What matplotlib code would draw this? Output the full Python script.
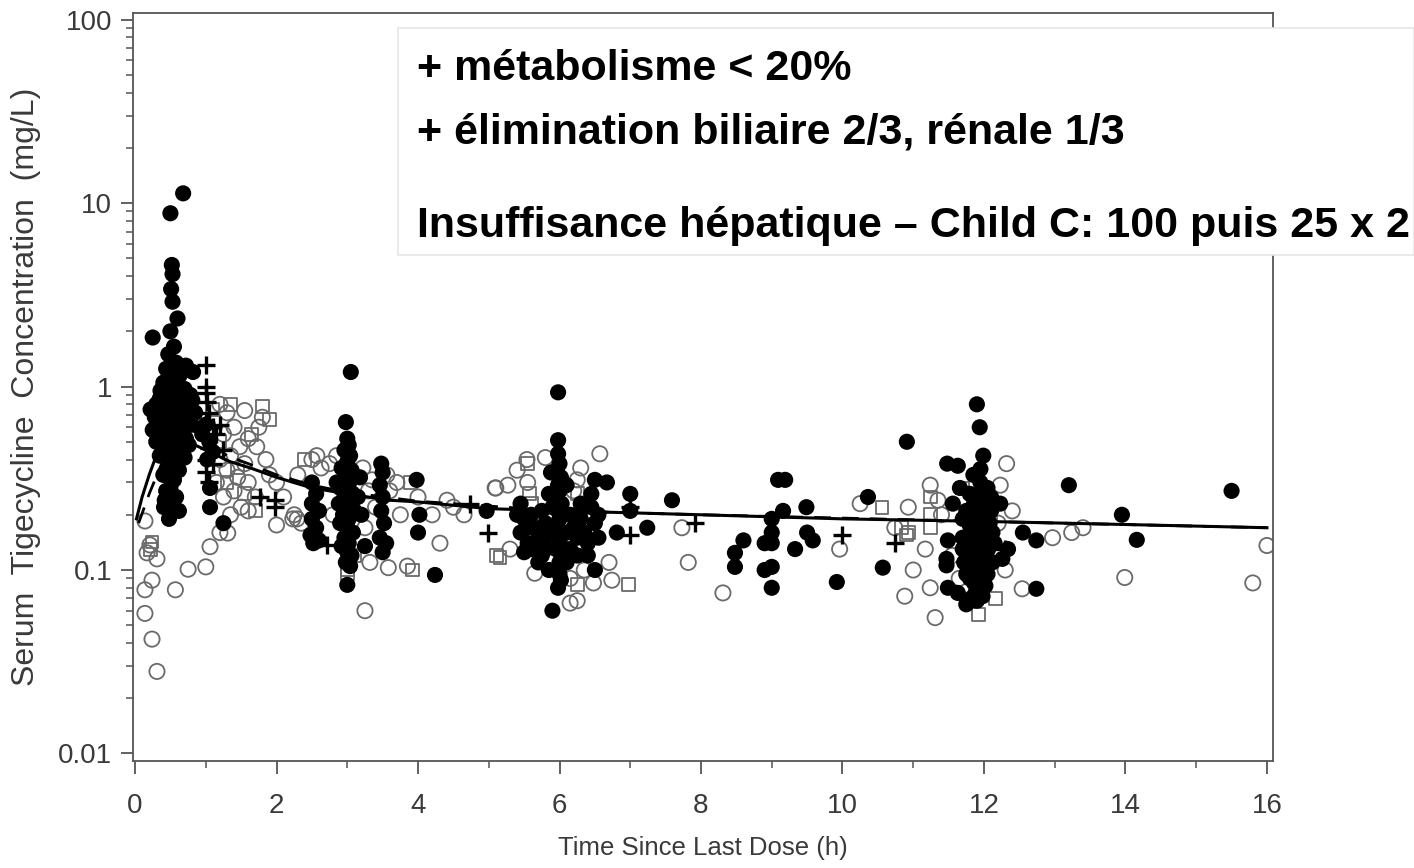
"""
Concentrations sériques de tigécycline en fonction du temps depuis la dernière dose
"""
import matplotlib
matplotlib.use("Agg")
import matplotlib.pyplot as plt
from matplotlib.patches import Rectangle
from matplotlib.ticker import LogLocator, FixedLocator, NullFormatter
import numpy as np

# Observations (temps en h, concentration en mg/L)
filled_pts = [
    # ~0.5 h
    (0.68, 11.3), (0.50, 8.8), (0.52, 4.6), (0.53, 4.1), (0.51, 3.4), (0.53, 2.9), (0.60, 2.35),
    (0.25, 1.85), (0.50, 2.0), (0.55, 1.65), (0.47, 1.5), (0.58, 1.35), (0.44, 1.25), (0.63, 1.15),
    (0.72, 1.3), (0.40, 1.05), (0.54, 1.05), (0.70, 0.97), (0.36, 0.95), (0.35, 0.86), (0.48, 0.9),
    (0.60, 0.86), (0.78, 0.9), (0.30, 0.8), (0.42, 0.78), (0.52, 0.76), (0.66, 0.8), (0.75, 0.7),
    (0.38, 0.7), (0.46, 0.66), (0.56, 0.68), (0.63, 0.62), (0.71, 0.6), (0.80, 0.62), (0.33, 0.6),
    (0.48, 0.58), (0.58, 0.55), (0.40, 0.52), (0.52, 0.5), (0.66, 0.5), (0.76, 0.48), (0.45, 0.46),
    (0.60, 0.44), (0.35, 0.42), (0.55, 0.4), (0.70, 0.41), (0.48, 0.37), (0.62, 0.35), (0.40, 0.33),
    (0.55, 0.31), (0.44, 0.27), (0.58, 0.25), (0.41, 0.22), (0.54, 0.21), (0.48, 0.19), (0.62, 0.21),
    (0.82, 1.2), (0.81, 0.84), (0.30, 0.5), (0.28, 0.68), (0.22, 0.75), (0.25, 0.58), (0.85, 0.72),
    (0.68, 0.72), (0.64, 0.95), (0.46, 1.1), (0.38, 0.62), (0.72, 0.52), (0.42, 0.24), (0.50, 0.28),
    # ~1 h
    (1.0, 0.62), (1.05, 0.5), (1.1, 0.44), (1.02, 0.4), (1.06, 0.28), (1.06, 0.22), (1.25, 0.18),
    (0.95, 0.55),
    # ~2.5 h
    (2.50, 0.30), (2.56, 0.26), (2.50, 0.23), (2.60, 0.21), (2.50, 0.19), (2.56, 0.17), (2.48, 0.155),
    (2.60, 0.145), (2.52, 0.14),
    # ~3 h
    (3.05, 1.2), (2.98, 0.64), (3.0, 0.52), (3.02, 0.48), (2.96, 0.45), (3.04, 0.42), (3.0, 0.39),
    (2.92, 0.36), (3.06, 0.35), (3.0, 0.33), (2.95, 0.31), (3.03, 0.3), (2.9, 0.28), (3.0, 0.27),
    (3.08, 0.26), (2.96, 0.25), (3.02, 0.24), (2.88, 0.23), (3.0, 0.22), (3.1, 0.21), (2.94, 0.2),
    (3.02, 0.19), (2.9, 0.18), (3.0, 0.17), (3.08, 0.16), (2.96, 0.15), (3.02, 0.14), (2.92, 0.135),
    (3.0, 0.125), (3.06, 0.12), (2.98, 0.11), (3.04, 0.105), (3.0, 0.083), (3.2, 0.2), (3.15, 0.25),
    (3.25, 0.135), (2.85, 0.3), (3.18, 0.32),
    # ~3.5 - 5 h
    (3.48, 0.38), (3.50, 0.34), (3.46, 0.29), (3.50, 0.25), (3.48, 0.21), (3.52, 0.18), (3.46, 0.15),
    (3.50, 0.125), (3.55, 0.14), (3.98, 0.31), (4.0, 0.16), (4.24, 0.094), (4.02, 0.2), (4.97, 0.21),
    # ~6 h
    (5.98, 0.93), (5.98, 0.51), (5.9, 0.06),
    (5.98, 0.43), (6.0, 0.38), (5.96, 0.35), (6.02, 0.32), (5.98, 0.29), (6.0, 0.27), (5.95, 0.25),
    (6.03, 0.23), (5.98, 0.21), (6.0, 0.19), (5.96, 0.175), (6.02, 0.16), (5.98, 0.15), (6.0, 0.14),
    (5.95, 0.13), (6.03, 0.12), (6.0, 0.11), (5.97, 0.1), (6.0, 0.095), (6.02, 0.088), (5.98, 0.08),
    (5.45, 0.23), (5.5, 0.19), (5.45, 0.16), (5.55, 0.14), (5.5, 0.125), (5.6, 0.2), (5.65, 0.17),
    (5.7, 0.15), (5.6, 0.13), (5.75, 0.12), (5.8, 0.18), (5.85, 0.155), (5.75, 0.21), (5.85, 0.26),
    (5.7, 0.11), (5.85, 0.1), (6.15, 0.2), (6.2, 0.17), (6.25, 0.15), (6.15, 0.13), (6.3, 0.19),
    (6.35, 0.16), (6.4, 0.14), (6.45, 0.22), (6.5, 0.18), (6.55, 0.15), (6.4, 0.12), (6.5, 0.1),
    (6.3, 0.23), (6.45, 0.26), (6.1, 0.11), (5.4, 0.2), (5.55, 0.17), (5.65, 0.14), (5.9, 0.22),
    (6.1, 0.16), (6.25, 0.12), (6.55, 0.2), (5.8, 0.13), (6.1, 0.29), (5.88, 0.34),
    (6.5, 0.31), (6.67, 0.3), (7.0, 0.26), (6.81, 0.16), (7.24, 0.17), (7.59, 0.24), (7.0, 0.21),
    # ~8 - 11 h
    (8.48, 0.124), (8.48, 0.104), (8.6, 0.145), (8.9, 0.14), (9.0, 0.14), (8.9, 0.1), (9.0, 0.104),
    (9.0, 0.08), (9.0, 0.19), (9.0, 0.16), (9.09, 0.31), (9.19, 0.31), (9.16, 0.21), (9.49, 0.22),
    (9.33, 0.13), (9.5, 0.16), (9.58, 0.145), (9.92, 0.086), (10.36, 0.25), (10.57, 0.103),
    (10.91, 0.5),
    # ~12 h
    (11.9, 0.8), (11.94, 0.6), (11.99, 0.42), (11.48, 0.38), (11.63, 0.37), (12.23, 0.23),
    (11.56, 0.23), (11.49, 0.145), (11.47, 0.115), (11.47, 0.106), (11.49, 0.08), (11.63, 0.075),
    (11.75, 0.065), (11.9, 0.068), (12.26, 0.115), (12.34, 0.13), (12.55, 0.16), (12.74, 0.145),
    (12.74, 0.079),
    (11.85, 0.33), (11.95, 0.3), (12.05, 0.28), (11.8, 0.26), (11.92, 0.25), (12.02, 0.23),
    (11.75, 0.21), (11.88, 0.2), (12.0, 0.19), (12.08, 0.18), (11.8, 0.175), (11.92, 0.165),
    (12.02, 0.155), (11.7, 0.15), (11.85, 0.145), (11.97, 0.14), (12.06, 0.13), (11.78, 0.125),
    (11.9, 0.12), (12.0, 0.115), (11.72, 0.11), (11.85, 0.105), (11.95, 0.1), (12.05, 0.095),
    (11.8, 0.09), (11.92, 0.086), (12.02, 0.082), (11.88, 0.075), (11.98, 0.072), (11.82, 0.07),
    (12.1, 0.25), (12.12, 0.16), (11.95, 0.355), (11.7, 0.19), (11.7, 0.13), (11.75, 0.095),
    (12.1, 0.21), (12.12, 0.11), (11.86, 0.23), (11.9, 0.16), (11.95, 0.13), (12.0, 0.092),
    (11.86, 0.085), (12.15, 0.14), (11.66, 0.28),
    # > 13 h
    (13.2, 0.29), (13.95, 0.2), (14.16, 0.146), (15.5, 0.27),
]

open_circle_pts = [
    (0.14, 0.185), (0.21, 0.137), (0.17, 0.124), (0.31, 0.115), (0.75, 0.101), (1.0, 0.104),
    (1.06, 0.134), (1.31, 0.159), (0.24, 0.088), (0.14, 0.078), (0.57, 0.078), (0.14, 0.058),
    (0.24, 0.042), (0.31, 0.028), (2.0, 0.176), (2.29, 0.19),
    (1.2, 0.8), (1.3, 0.72), (1.55, 0.74), (1.8, 0.68), (1.75, 0.6), (1.4, 0.6), (1.25, 0.55),
    (1.6, 0.52), (1.72, 0.47), (1.48, 0.47), (1.35, 0.42), (1.2, 0.4), (1.55, 0.38), (1.85, 0.4),
    (1.3, 0.35), (1.45, 0.32), (1.15, 0.3), (1.6, 0.3), (1.4, 0.27), (1.7, 0.25), (1.25, 0.25),
    (1.5, 0.22), (1.35, 0.2), (1.6, 0.21), (1.2, 0.16), (2.1, 0.25), (2.25, 0.2), (2.35, 0.18),
    (2.0, 0.3), (1.9, 0.33), (2.5, 0.4), (2.3, 0.33),
    (2.57, 0.42), (2.63, 0.36), (2.23, 0.19), (3.22, 0.36), (3.56, 0.33), (4.0, 0.25), (4.2, 0.2),
    (4.31, 0.14), (4.41, 0.24), (5.09, 0.28), (3.32, 0.11), (3.58, 0.103), (3.25, 0.17),
    (3.25, 0.06), (2.75, 0.38), (2.85, 0.42), (3.3, 0.27), (3.4, 0.22), (3.7, 0.3), (3.75, 0.2),
    (4.5, 0.22), (4.65, 0.2), (3.85, 0.105), (2.8, 0.2), (3.35, 0.31), (3.6, 0.27),
    (5.54, 0.4), (5.8, 0.41), (6.57, 0.43), (6.25, 0.31), (5.1, 0.28), (5.27, 0.29), (5.65, 0.096),
    (6.25, 0.068), (6.15, 0.066), (6.74, 0.088), (6.48, 0.085), (5.4, 0.35), (5.55, 0.3),
    (6.3, 0.36), (6.2, 0.27), (6.35, 0.1), (6.15, 0.09), (5.3, 0.13), (6.7, 0.11),
    (7.73, 0.17), (7.82, 0.11), (8.31, 0.075), (9.96, 0.13), (10.25, 0.23), (10.93, 0.22),
    (10.74, 0.17), (11.17, 0.13), (11.0, 0.1), (10.88, 0.072), (11.24, 0.08), (11.24, 0.29),
    (11.31, 0.055),
    (12.32, 0.38), (12.54, 0.079), (12.23, 0.29), (12.97, 0.15), (13.24, 0.16), (13.4, 0.17),
    (11.4, 0.2), (11.55, 0.12), (12.2, 0.18), (12.3, 0.1), (13.99, 0.091), (15.8, 0.085),
    (16.0, 0.136), (11.35, 0.24), (12.4, 0.21), (11.65, 0.09),
]

open_square_pts = [
    (0.24, 0.142), (0.22, 0.13), (1.1, 0.75), (1.35, 0.8), (1.65, 0.55), (1.8, 0.78), (1.2, 0.5),
    (1.45, 0.36), (1.3, 0.3), (1.55, 0.26), (1.7, 0.21), (1.9, 0.66), (3.89, 0.3), (5.11, 0.12),
    (3.92, 0.1), (3.0, 0.1), (3.0, 0.095), (5.16, 0.117), (6.25, 0.083), (6.97, 0.083),
    (5.58, 0.26), (5.6, 0.23), (5.55, 0.38), (6.25, 0.26), (6.3, 0.22), (10.56, 0.22),
    (10.83, 0.17), (10.91, 0.155), (11.24, 0.25), (11.24, 0.17), (11.24, 0.2), (10.93, 0.16),
    (11.92, 0.057), (12.16, 0.07), (11.7, 0.28), (12.1, 0.2), (11.8, 0.13), (2.4, 0.4),
    (3.1, 0.12), (6.2, 0.15), (6.3, 0.12),
]

plus_pts = [
    (1.0, 1.31), (1.0, 1.0), (1.0, 0.92), (1.02, 0.82), (1.05, 0.72), (1.0, 0.63), (1.1, 0.6),
    (1.15, 0.55), (1.2, 0.62), (1.0, 0.52), (1.05, 0.46), (1.0, 0.4), (1.1, 0.38), (1.0, 0.34),
    (1.05, 0.3), (1.25, 0.45), (1.77, 0.25), (1.98, 0.22), (1.98, 0.24), (2.71, 0.137),
    (4.74, 0.23), (4.99, 0.16), (7.0, 0.22), (7.0, 0.155), (7.91, 0.18), (9.99, 0.155),
    (10.74, 0.14), (12.3, 0.13),
]

# Courbes du modèle (prédiction)
pred_t = [0.02, 0.1, 0.2, 0.3, 0.4, 0.5, 0.6, 0.8, 1.0, 1.34, 1.63, 2.0, 2.5, 3.0, 3.6, 4.0,
          5.0, 6.0, 7.0, 8.0, 10.0, 12.0, 14.0, 16.0]
pred_c = [0.19, 0.25, 0.33, 0.42, 0.5, 0.55, 0.53, 0.49, 0.45, 0.39, 0.36, 0.32, 0.28, 0.26,
          0.24, 0.235, 0.216, 0.21, 0.205, 0.2, 0.19, 0.184, 0.177, 0.17]
pred2_t = [0.05, 0.2, 0.4, 0.6, 0.8, 1.0, 1.3, 1.6, 2.0, 2.5, 3.0, 4.0, 6.0, 8.0, 12.0, 16.0]
pred2_c = [0.18, 0.26, 0.4, 0.55, 0.58, 0.52, 0.42, 0.38, 0.33, 0.29, 0.265, 0.237, 0.21,
           0.2, 0.184, 0.17]

y_ticks = [0.01, 0.1, 1, 10, 100]
y_labels = ["0.01", "0.1", "1", "10", "100"]
x_ticks = [0, 2, 4, 6, 8, 10, 12, 14, 16]

notes = [
    "+ métabolisme < 20%",
    "+ élimination biliaire 2/3, rénale 1/3",
    "Insuffisance hépatique – Child C: 100 puis 25 x 2",
]

axis_font = ["Liberation Sans", "DejaVu Sans"]
grey = "#3a3a3a"

fig = plt.figure(figsize=(14.14, 8.68), dpi=100)
ax = fig.add_axes([0.094, 0.1233, 0.806, 0.862])
ax.set_yscale("log")
ax.set_xlim(-0.03, 16.08)
ax.set_ylim(0.0091, 109)

fx, fy = np.array(filled_pts).T
ox, oy = np.array(open_circle_pts).T
sx, sy = np.array(open_square_pts).T
px, py = np.array(plus_pts).T

ax.scatter(ox, oy, s=120, facecolors="none", edgecolors="#6a6a6a", linewidths=1.3, zorder=2)
ax.scatter(sx, sy, s=85, marker="s", facecolors="none", edgecolors="#6a6a6a",
           linewidths=1.3, zorder=2)
ax.plot(pred2_t, pred2_c, color="black", lw=2, ls=(0, (6, 4)), zorder=3)
ax.plot(pred_t, pred_c, color="black", lw=2.2, zorder=3)
ax.scatter(fx, fy, s=135, color="black", edgecolors="none", zorder=4)
ax.scatter(px, py, s=170, marker="+", color="black", linewidths=2.4, zorder=5)

# axes
for sp in ax.spines.values():
    sp.set_color("#555555")
    sp.set_linewidth(1.3)
ax.yaxis.set_major_locator(FixedLocator(y_ticks))
ax.set_yticklabels(y_labels)
ax.yaxis.set_minor_locator(LogLocator(base=10, subs=np.arange(2, 10)))
ax.yaxis.set_minor_formatter(NullFormatter())
ax.set_xticks(x_ticks)
ax.set_xticks(range(0, 17), minor=True)
ax.tick_params(which="major", direction="out", length=9, width=1.3, color="#555555",
               labelcolor=grey, labelsize=20, pad=6)
ax.tick_params(which="minor", direction="out", length=5, width=1.1, color="#555555")
for lbl in ax.get_xticklabels() + ax.get_yticklabels():
    lbl.set_family(axis_font)
ax.tick_params(axis="x", pad=14)

ax.set_xlabel("Time Since Last Dose (h)", fontsize=18.5, color=grey, family=axis_font, labelpad=12)
ax.set_ylabel("Serum  Tigecycline  Concentration  (mg/L)", fontsize=23, color=grey,
              family=axis_font, labelpad=12)

# encadré de texte
box = Rectangle((398 / 1414, 1 - 255 / 868), (1414 - 398) / 1414, (255 - 28) / 868,
                transform=fig.transFigure, facecolor="white", edgecolor="#e6e6e6",
                linewidth=1.2, zorder=10)
fig.add_artist(box)
for txt, yb in zip(notes, [80, 143, 237]):
    fig.text(417 / 1414, 1 - yb / 868, txt, fontsize=31, fontweight="bold",
             family=["Liberation Sans", "DejaVu Sans"], color="black", va="baseline",
             ha="left", zorder=11)

plt.savefig("out.png", dpi=100)
